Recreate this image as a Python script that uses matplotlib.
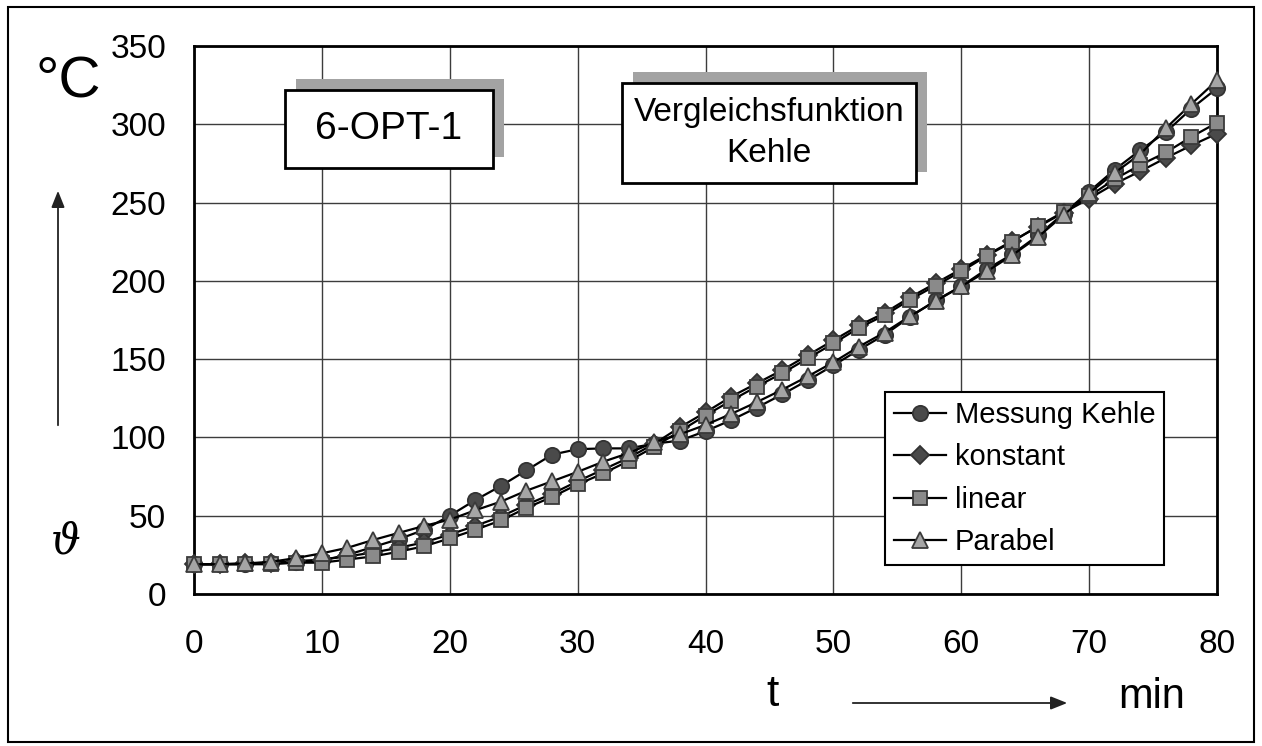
import numpy as np
import matplotlib.pyplot as plt
from matplotlib.patches import Rectangle, FancyArrowPatch

plt.rcParams['font.family'] = ['Liberation Sans', 'DejaVu Sans']

# time in minutes, one value every 2 min
t = list(range(0, 81, 2))

messung = [19, 19, 19, 19.5, 20.5, 21.5, 25, 30, 35, 41, 50, 60, 69, 79, 89, 92.5, 93, 93,
           96, 98, 104, 111, 119, 127.5, 136.5, 146, 156, 165.5, 177, 187.5, 196.5, 207.5,
           217, 229, 243, 257, 271, 283.5, 295, 310, 323]
konstant = [19, 19, 19.5, 20, 21, 22, 24, 26.5, 29.5, 33, 38, 43.5, 49.5, 57, 64, 72, 79.5, 87,
            96, 106.5, 116, 126, 134.5, 143, 152.5, 162, 171.5, 179.5, 189.5, 198.5, 207.5,
            216.5, 225.5, 234.5, 243.5, 252.5, 262, 270, 278.5, 286.5, 294]
linear = [19, 19, 19, 19, 20, 20, 22, 24, 27, 30.5, 35.5, 41, 47, 55, 62, 70, 77, 85,
          94, 104, 114, 123.5, 132.5, 141, 150.5, 160, 170, 178, 188, 197, 206,
          216, 225, 235, 244, 254, 265, 274, 282, 292, 301]
parabel = [19, 19, 19.5, 20.5, 23, 26, 29.5, 34.5, 39, 43.5, 47.5, 53.5, 59, 66, 72, 78, 84.5, 90,
           97, 102, 108, 115, 122.5, 130.5, 139, 148, 158, 167, 177.5, 187, 196.5, 206,
           216.5, 228, 242, 256, 269, 281, 297.5, 313, 328]

series_names = ['Messung Kehle', 'konstant', 'linear', 'Parabel']
x_ticks = list(range(0, 81, 10))
y_ticks = list(range(0, 351, 50))

W, H = 1262, 746
fig = plt.figure(figsize=(W / 100, H / 100), dpi=100)
ax = fig.add_axes([194 / W, 1 - 594 / H, (1217 - 194) / W, (594 - 46) / H])


def px(x, y):
    # figure pixel (from top left) -> figure fraction
    return x / W, 1 - y / H


styles = [
    dict(marker='o', markerfacecolor='#4a4a4a', markeredgecolor='#333333', markersize=11),
    dict(marker='D', markerfacecolor='#4a4a4a', markeredgecolor='#333333', markersize=9),
    dict(marker='s', markerfacecolor='#8a8a8a', markeredgecolor='#3a3a3a', markersize=10),
    dict(marker='^', markerfacecolor='#a5a5a5', markeredgecolor='#3a3a3a', markersize=11),
]
for values, name, st in zip([messung, konstant, linear, parabel], series_names, styles):
    ax.plot(t, values, color='black', linewidth=1.6, markeredgewidth=1.3,
            label=name, clip_on=False, zorder=3, **st)

ax.set_xlim(0, 80)
ax.set_ylim(0, 350)
ax.set_xticks(x_ticks)
ax.set_yticks(y_ticks)
ax.grid(True, color='#3c3c3c', linewidth=1.0)
ax.set_axisbelow(True)
ax.tick_params(length=0, labelsize=24)
ax.tick_params(axis='y', pad=20)
ax.tick_params(axis='x', pad=25)
for s in ax.spines.values():
    s.set_linewidth(2)
    s.set_color('black')

leg = ax.legend(loc='upper left', bbox_to_anchor=px(885, 392), bbox_transform=fig.transFigure,
                fontsize=21, frameon=True, fancybox=False, framealpha=1,
                handlelength=1.8, handletextpad=0.3, labelspacing=0.5,
                borderpad=0.3, borderaxespad=0)
leg.get_frame().set_edgecolor('black')
leg.get_frame().set_linewidth(1.5)


def label_box(x0, y0, x1, y1, text, size, ls=1.2):
    sx, sy = px(x0 + 11, y1 - 11)
    fig.patches.append(Rectangle((sx, sy), (x1 - x0) / W, (y1 - y0) / H,
                                 transform=fig.transFigure, facecolor='#a3a3a3',
                                 edgecolor='none', zorder=5))
    bx, by = px(x0, y1)
    fig.patches.append(Rectangle((bx, by), (x1 - x0) / W, (y1 - y0) / H,
                                 transform=fig.transFigure, facecolor='white',
                                 edgecolor='black', linewidth=2, zorder=6))
    cx, cy = px((x0 + x1) / 2, (y0 + y1) / 2)
    fig.text(cx, cy, text, ha='center', va='center', fontsize=size,
             linespacing=ls, zorder=7)


label_box(285, 90, 493, 168, '6-OPT-1', 28)
label_box(622, 83, 916, 183, 'Vergleichsfunktion\nKehle', 24, 1.4)

# axis labels and arrows
fig.text(*px(68, 82), '°C', fontsize=42, ha='center', va='center')
fig.text(*px(66, 542), 'ϑ', fontsize=30, ha='center', va='center',
         family=['DejaVu Serif'], style='italic')
fig.text(*px(773, 695), 't', fontsize=32, ha='center', va='center')
fig.text(*px(1152, 697), 'min', fontsize=30, ha='center', va='center')

fig.patches.append(FancyArrowPatch(px(58, 428), px(58, 188), transform=fig.transFigure,
                                   arrowstyle='-|>,head_length=10,head_width=4',
                                   color='#222222', linewidth=1.3))
fig.patches.append(FancyArrowPatch(px(850, 703), px(1070, 703), transform=fig.transFigure,
                                   arrowstyle='-|>,head_length=10,head_width=4',
                                   color='#222222', linewidth=1.3))

# outer frame
fig.patches.append(Rectangle(px(8, 742), (1254 - 8) / W, (742 - 7) / H,
                             transform=fig.transFigure, facecolor='none',
                             edgecolor='black', linewidth=1.5))

fig.savefig('out.png', dpi=100)
